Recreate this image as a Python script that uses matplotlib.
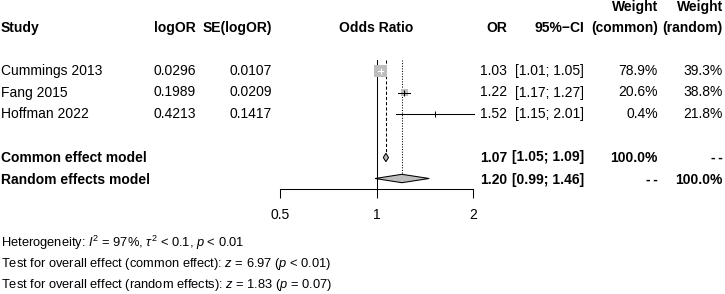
import numpy as np
import matplotlib.pyplot as plt

plt.rcParams['font.family'] = ['Liberation Sans', 'DejaVu Sans']
plt.rcParams['mathtext.fontset'] = 'custom'
plt.rcParams['mathtext.rm'] = 'Liberation Sans'
plt.rcParams['mathtext.it'] = 'Liberation Sans:italic'

# -- data ---------------------------------------------------------------
studies = ["Cummings 2013", "Fang 2015", "Hoffman 2022"]
log_or = ["0.0296", "0.1989", "0.4213"]
se_log_or = ["0.0107", "0.0209", "0.1417"]
odds = [1.03, 1.22, 1.52]
ci_lo = [1.01, 1.17, 1.15]
ci_hi = [1.05, 1.27, 2.01]
w_common = [78.9, 20.6, 0.4]
w_random = [39.3, 38.8, 21.8]

common_est, common_lo, common_hi = 1.07, 1.05, 1.09
random_est, random_lo, random_hi = 1.20, 0.99, 1.46

ticks = [0.5, 1, 2]
tick_labels = ["0.5", "1", "2"]

het_text = r"Heterogeneity: $I^2$ = 97%, $\tau^2$ < 0.1, $p$ < 0.01"
test_common = r"Test for overall effect (common effect): $z$ = 6.97 ($p$ < 0.01)"
test_random = r"Test for overall effect (random effects): $z$ = 1.83 ($p$ = 0.07)"
missing = "-\u2009-"

# -- layout (pixels) ----------------------------------------------------
W, H = 725, 294
FS = 10
GREY = "#BEBEBE"
row_y = [71, 92.5, 114]
y_common, y_random = 157.5, 180
y_head, y_head2 = 28, 7
y_axis = 189
DH = 4.2  # diamond half height

fig = plt.figure(figsize=(W / 100, H / 100), dpi=100)
tab = fig.add_axes([0, 0, 1, 1])
tab.set_xlim(0, W)
tab.set_ylim(H, 0)
tab.axis("off")

fax = fig.add_axes([280 / W, 0, 193 / W, 1])
fax.set_xscale("log", base=2)
fax.set_xlim(0.5, 2)
fax.set_ylim(H, 0)
fax.patch.set_visible(False)
for s in ("top", "left", "right"):
    fax.spines[s].set_visible(False)
fax.spines["bottom"].set_position(("data", y_axis))
fax.spines["bottom"].set_bounds(0.5, 2)
fax.spines["bottom"].set_linewidth(0.75)
fax.yaxis.set_visible(False)
fax.set_xticks(ticks)
fax.set_xticklabels(tick_labels)
fax.minorticks_off()
fax.tick_params(axis="x", length=6.5, width=0.75, pad=7.5, labelsize=FS)

# -- column headers -----------------------------------------------------
def txt(x, y, s, ha="left", bold=False, size=FS):
    tab.text(x, y, s, ha=ha, va="center", fontsize=size,
             fontweight="bold" if bold else "normal")

txt(1, y_head, "Study", bold=True)
txt(196, y_head, "logOR", ha="right", bold=True)
txt(272, y_head, "SE(logOR)", ha="right", bold=True)
txt(376.5, y_head, "Odds Ratio", ha="center", bold=True)
txt(507, y_head, "OR", ha="right", bold=True)
txt(584, y_head, "95%\u2212CI", ha="right", bold=True)
txt(658, y_head2, "Weight", ha="right", bold=True)
txt(658, y_head, "(common)", ha="right", bold=True)
txt(723, y_head2, "Weight", ha="right", bold=True)
txt(723, y_head, "(random)", ha="right", bold=True)

# -- study rows ---------------------------------------------------------
for i, y in enumerate(row_y):
    txt(1, y, studies[i])
    txt(196, y, log_or[i], ha="right")
    txt(272, y, se_log_or[i], ha="right")
    txt(507, y, f"{odds[i]:.2f}", ha="right")
    txt(584, y, f"[{ci_lo[i]:.2f}; {ci_hi[i]:.2f}]", ha="right")
    txt(658, y, f"{w_common[i]:.1f}%", ha="right")
    txt(723, y, f"{w_random[i]:.1f}%", ha="right")

txt(1, y_common, "Common effect model", bold=True)
txt(507, y_common, f"{common_est:.2f}", ha="right", bold=True)
txt(584, y_common, f"[{common_lo:.2f}; {common_hi:.2f}]", ha="right", bold=True)
txt(658, y_common, "100.0%", ha="right", bold=True)
txt(723, y_common, missing, ha="right", bold=True)

txt(1, y_random, "Random effects model", bold=True)
txt(507, y_random, f"{random_est:.2f}", ha="right", bold=True)
txt(584, y_random, f"[{random_lo:.2f}; {random_hi:.2f}]", ha="right", bold=True)
txt(658, y_random, missing, ha="right", bold=True)
txt(723, y_random, "100.0%", ha="right", bold=True)

txt(1, 243, het_text, size=9.25)
txt(1, 264, test_common, size=9.25)
txt(1, 285, test_random, size=9.25)

# -- forest -------------------------------------------------------------
fax.plot([1, 1], [60, y_axis], color="black", lw=0.75)
fax.plot([common_est, common_est], [60, y_common - DH], color="black",
         lw=0.75, ls=(0, (3, 2)))
fax.plot([random_est, random_est], [60, y_random - DH - 1.5],
         color="black", lw=0.75, ls=(0, (1, 1.5)))

sizes = np.array(w_common) * 1.11
fax.scatter(odds, row_y, marker="s", s=sizes, color=GREY, zorder=2,
            linewidths=0)
px_per_log2 = 193 / 2
for i, y in enumerate(row_y):
    side_px = np.sqrt(sizes[i]) * 100 / 72
    ci_px = (np.log2(ci_hi[i]) - np.log2(ci_lo[i])) * px_per_log2
    col = "white" if ci_px < side_px else "black"
    fax.plot([ci_lo[i], ci_hi[i]], [y, y], color=col, lw=0.75, zorder=3,
             clip_on=False)
    fax.plot([odds[i]], [y], marker="|", markersize=4.5, mew=0.75,
             color=col, zorder=3)

for est, lo, hi, y in ((common_est, common_lo, common_hi, y_common),
                       (random_est, random_lo, random_hi, y_random - 1.5)):
    fax.fill([lo, est, hi, est], [y, y - DH, y, y + DH],
             facecolor=GREY, edgecolor="black", lw=0.75, zorder=3)

fig.savefig("out.png", dpi=100)
